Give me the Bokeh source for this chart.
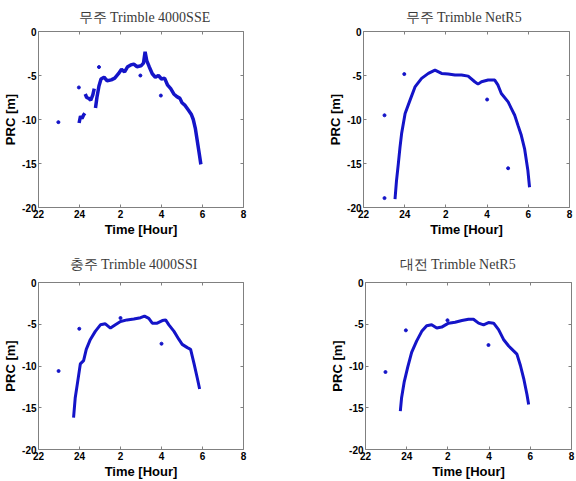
from bokeh.plotting import figure
from bokeh.layouts import column, row
from bokeh.models import Range1d, FixedTicker, LinearAxis
from bokeh.embed import file_html
from bokeh.resources import INLINE

# ---------------- data ----------------
titles = ["무주 Trimble 4000SSE", "무주 Trimble NetR5",
          "충주 Trimble 4000SSI", "대전 Trimble NetR5"]

x_ticks = [22, 24, 26, 28, 30, 32]
x_tick_labels = ["22", "24", "2", "4", "6", "8"]
y_ticks = [-20, -15, -10, -5, 0]
y_tick_labels = ["-20", "-15", "-10", "-5", "0"]

# panel 1 : 무주 4000SSE (three pieces of track)
p1_x_a = [23.98, 24.05, 24.12, 24.2, 24.26]
p1_y_a = [-10.4, -9.6, -9.9, -9.5, -9.3]
p1_x_b = [24.28, 24.35, 24.45, 24.55, 24.65, 24.72]
p1_y_b = [-7.1, -7.5, -7.6, -7.8, -7.2, -6.5]
p1_x_c = [24.78, 24.85, 24.95, 25.05, 25.2, 25.35, 25.55, 25.72, 25.9, 26.05,
          26.2, 26.35, 26.5, 26.65, 26.8, 27.0, 27.12, 27.2, 27.28, 27.4,
          27.55, 27.7, 27.85, 28.0, 28.15, 28.3, 28.45, 28.6, 28.75, 28.9,
          29.0, 29.15, 29.3, 29.45, 29.55, 29.65, 29.75, 29.85, 29.92]
p1_y_c = [-8.7, -7.5, -6.2, -5.4, -5.2, -5.6, -5.5, -5.3, -4.8, -4.3,
          -4.6, -4.0, -3.8, -3.7, -4.0, -3.9, -3.6, -2.3, -3.3, -4.0,
          -4.8, -5.2, -5.0, -5.4, -5.3, -6.1, -6.5, -7.1, -7.4, -7.6,
          -8.1, -8.4, -8.9, -9.4, -10.0, -11.0, -12.5, -14.0, -15.1]
p1_out_x = [22.97, 23.97, 24.95, 26.97, 27.97]
p1_out_y = [-10.3, -6.36, -4.04, -5.0, -7.28]

# panel 2 : 무주 NetR5
p2_x = [23.53, 23.6, 23.69, 23.77, 23.85, 24.02, 24.26, 24.5, 24.82, 25.15,
        25.47, 25.79, 26.11, 26.44, 26.76, 27.08, 27.4, 27.56, 27.73, 28.05,
        28.37, 28.53, 28.69, 29.02, 29.18, 29.34, 29.5, 29.66, 29.82, 29.98, 30.06]
p2_y = [-19.05, -17.0, -15.05, -13.2, -11.6, -9.33, -7.8, -6.3, -5.33, -4.76,
        -4.38, -4.76, -4.84, -4.95, -4.95, -5.07, -5.71, -5.98, -5.71, -5.52,
        -5.52, -6.1, -7.05, -8.0, -8.76, -9.52, -10.67, -11.8, -13.33, -15.8, -17.7]
p2_out_x = [23.02, 23.02, 23.98, 28.0, 29.02]
p2_out_y = [-9.52, -18.93, -4.84, -7.73, -15.54]

# panel 3 : 충주 4000SSI
p3_x = [23.71, 23.79, 23.91, 24.04, 24.2, 24.33, 24.53, 24.77, 25.02, 25.26,
        25.51, 25.75, 26.0, 26.32, 26.65, 26.98, 27.17, 27.38, 27.55, 27.79,
        28.04, 28.2, 28.36, 28.61, 28.85, 29.01, 29.26, 29.42, 29.59, 29.75, 29.86]
p3_y = [-16.18, -13.84, -11.9, -9.75, -9.36, -8.0, -6.82, -5.85, -5.07, -4.95,
        -5.46, -5.07, -4.68, -4.48, -4.37, -4.21, -4.02, -4.29, -4.87, -4.87,
        -4.56, -4.48, -5.07, -5.85, -6.82, -7.41, -7.8, -8.0, -9.75, -11.5, -12.75]
p3_out_x = [22.98, 23.99, 26.0, 28.0]
p3_out_y = [-10.6, -5.54, -4.25, -7.33]

# panel 4 : 대전 NetR5
p4_x = [23.69, 23.75, 23.88, 24.05, 24.24, 24.48, 24.73, 24.97, 25.21, 25.46,
        25.7, 26.03, 26.35, 26.68, 27.0, 27.24, 27.49, 27.73, 27.97, 28.22,
        28.46, 28.7, 28.95, 29.19, 29.35, 29.52, 29.68, 29.84, 29.92]
p4_y = [-15.4, -13.84, -11.9, -10.14, -8.38, -7.02, -5.85, -5.18, -5.07, -5.46,
        -5.34, -4.87, -4.76, -4.56, -4.4, -4.4, -4.87, -5.07, -4.8, -4.87,
        -5.65, -6.82, -7.6, -8.19, -8.58, -9.94, -11.5, -13.45, -14.62]
p4_out_x = [22.97, 23.96, 25.98, 27.97]
p4_out_y = [-10.72, -5.73, -4.52, -7.49]

# ---------------- styling ----------------
BLUE = "#1414c8"
FRAME = "#808080"
SANS = "Liberation Sans"


def make_panel(title, h, borders, title_offset, title_standoff):
    left, right, top, bottom = borders
    p = figure(width=288, height=h, output_backend="svg", toolbar_location=None,
               x_range=Range1d(22, 32), y_range=Range1d(-20, 0),
               min_border_left=left, min_border_right=right,
               min_border_top=top, min_border_bottom=bottom)
    p.title.text = title
    p.title.align = "left"
    p.title.offset = title_offset
    p.title.vertical_align = "top"
    p.title.standoff = title_standoff
    p.title.text_font = "Liberation Serif"
    p.title.text_font_size = "14px"
    p.title.text_font_style = "normal"
    p.title.text_color = "#3a3a3a"
    p.grid.visible = False
    p.outline_line_color = FRAME
    p.outline_line_width = 1
    p.background_fill_color = "white"
    p.border_fill_color = "white"

    xover = {t: l for t, l in zip(x_ticks, x_tick_labels)}
    yover = {t: l for t, l in zip(y_ticks, y_tick_labels)}

    for ax, ticks, over, lab in ((p.xaxis[0], x_ticks, xover, "Time [Hour]"),
                                 (p.yaxis[0], y_ticks, yover, "PRC [m]")):
        ax.ticker = FixedTicker(ticks=ticks)
        ax.major_label_overrides = over
        ax.axis_label = lab
        ax.axis_label_text_font = SANS
        ax.axis_label_text_font_size = "13px"
        ax.axis_label_text_font_style = "bold"
        ax.axis_label_text_color = "black"
        ax.axis_label_standoff = 1
        ax.major_label_text_font = SANS
        ax.major_label_text_font_size = "10px"
        ax.major_label_text_font_style = "bold"
        ax.major_label_text_color = "black"
        ax.major_label_standoff = 2
        ax.axis_line_color = None
        ax.major_tick_in = 3
        ax.major_tick_out = 0
        ax.major_tick_line_color = FRAME
        ax.minor_tick_line_color = None

    # tick marks only (no labels) on the top and right edges of the box
    for loc, ticks in (("above", x_ticks), ("right", y_ticks)):
        ax = LinearAxis(ticker=FixedTicker(ticks=ticks))
        ax.major_label_text_color = None
        ax.major_label_text_font_size = "1px"
        ax.major_label_standoff = 0
        ax.axis_line_color = None
        ax.major_tick_in = 3
        ax.major_tick_out = 0
        ax.major_tick_line_color = FRAME
        ax.minor_tick_line_color = None
        p.add_layout(ax, loc)
    return p


p1 = make_panel(titles[0], 240, (37, 45, 31, 33), 40, 10)
p1.line(p1_x_a, p1_y_a, line_color=BLUE, line_width=3.5)
p1.line(p1_x_b, p1_y_b, line_color=BLUE, line_width=3.5)
p1.line(p1_x_c, p1_y_c, line_color=BLUE, line_width=3.5)
p1.scatter(p1_out_x, p1_out_y, size=3, color=BLUE)

p2 = make_panel(titles[1], 240, (75, 7, 31, 33), 42, 10)
p2.line(p2_x, p2_y, line_color=BLUE, line_width=3)
p2.scatter(p2_out_x, p2_out_y, size=3, color=BLUE)

p3 = make_panel(titles[2], 241, (38, 45, 42, 28), 31, 18)
p3.line(p3_x, p3_y, line_color=BLUE, line_width=3)
p3.scatter(p3_out_x, p3_out_y, size=3, color=BLUE)

p4 = make_panel(titles[3], 241, (77, 5, 42, 28), 34, 18)
p4.line(p4_x, p4_y, line_color=BLUE, line_width=3)
p4.scatter(p4_out_x, p4_out_y, size=3, color=BLUE)

layout = column(row(p1, p2), row(p3, p4))
open("out.html", "w").write(file_html(layout, INLINE))
